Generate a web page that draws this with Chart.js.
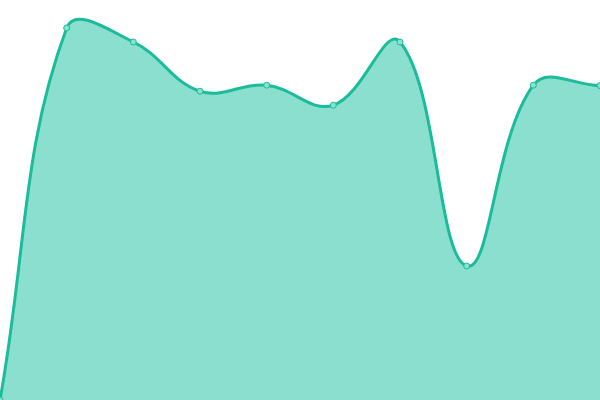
<!DOCTYPE html>
<html>
<head>
<meta charset="utf-8">
<script src="https://cdn.jsdelivr.net/npm/chart.js@4/dist/chart.umd.min.js"></script>
<style>
  html, body { margin: 0; padding: 0; background: #fff; }
  #wrap { width: 600px; height: 400px; }
</style>
</head>
<body>
<div id="wrap"><canvas id="grafico"></canvas></div>
<script>
const categorias = ['1', '2', '3', '4', '5', '6', '7', '8', '9', '10'];
const valores = [0, 93, 89.5, 77.2, 78.7, 73.7, 89.5, 33.5, 78.7, 78.6];
const yMin = 0;
const yMax = 100;

const ctx = document.getElementById('grafico').getContext('2d');

new Chart(ctx, {
  type: 'line',
  data: {
    labels: categorias,
    datasets: [{
      data: valores,
      fill: true,
      borderColor: '#1abc9c',
      backgroundColor: 'rgba(22, 192, 160, 0.5)',
      borderWidth: 3,
      tension: 0.4,
      pointRadius: 3,
      pointBorderWidth: 1,
      pointBackgroundColor: '#88e0cf',
      pointBorderColor: '#1abc9c'
    }]
  },
  options: {
    responsive: true,
    maintainAspectRatio: false,
    animation: false,
    layout: { padding: 0, autoPadding: false },
    plugins: {
      legend: { display: false },
      tooltip: { enabled: false }
    },
    scales: {
      x: { display: false },
      y: { display: false, min: yMin, max: yMax }
    }
  }
});
</script>
</body>
</html>
